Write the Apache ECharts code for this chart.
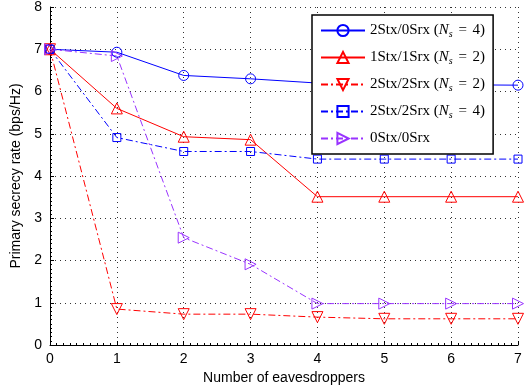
<!DOCTYPE html>
<html>
<head>
<meta charset="utf-8">
<script src="https://cdn.jsdelivr.net/npm/echarts@6/dist/echarts.min.js"></script>
<style>html,body{margin:0;padding:0;background:#fff}#c{width:526px;height:388px}</style>
</head>
<body>
<div id="c"></div>
<script>
var categories = [0, 1, 2, 3, 4, 5, 6, 7];
var s2Stx0Srx4 = [7, 6.93, 6.38, 6.30, 6.20, 6.18, 6.16, 6.15];
var s1Stx1Srx2 = [7, 5.60, 4.93, 4.86, 3.51, 3.51, 3.51, 3.51];
var s2Stx2Srx2 = [7, 0.85, 0.73, 0.73, 0.66, 0.62, 0.62, 0.62];
var s2Stx2Srx4 = [7, 4.91, 4.58, 4.58, 4.40, 4.40, 4.40, 4.40];
var s0Stx0Srx  = [7, 6.84, 2.54, 1.91, 0.98, 0.98, 0.98, 0.98];
var yTicks = [0, 1, 2, 3, 4, 5, 6, 7, 8];
var seriesNames = ['2Stx/0Srx (Ns = 4)', '1Stx/1Srx (Ns = 2)', '2Stx/2Srx (Ns = 2)', '2Stx/2Srx (Ns = 4)', '0Stx/0Srx'];
var legendLabels = {
  '2Stx/0Srx (Ns = 4)': '2Stx/0Srx ({i|N}{sub|s}{eq| = }4)',
  '1Stx/1Srx (Ns = 2)': '1Stx/1Srx ({i|N}{sub|s}{eq| = }2)',
  '2Stx/2Srx (Ns = 2)': '2Stx/2Srx ({i|N}{sub|s}{eq| = }2)',
  '2Stx/2Srx (Ns = 4)': '2Stx/2Srx ({i|N}{sub|s}{eq| = }4)',
  '0Stx/0Srx': '0Stx/0Srx'
};

var BLUE = '#0000ff', RED = '#ff0000', PURPLE = '#9933ff';
var dashDot = [7, 3, 2, 3];

function mk(name, data, color, symbol, size, dash, rot) {
  return {
    name: name, type: 'line',
    data: data.map(function (v, i) { return [categories[i], v]; }),
    symbol: symbol, symbolSize: size, symbolRotate: rot || 0,
    lineStyle: { color: color, width: 1, type: dash || 'solid' },
    itemStyle: { color: 'rgba(255,255,255,0)', borderColor: color, borderWidth: 1 },
    emphasis: { disabled: true },
    animation: false
  };
}

var chart = echarts.init(document.getElementById('c'), null, { renderer: 'canvas' });
chart.setOption({
  animation: false,
  grid: { left: 50, right: 8, top: 7, bottom: 43, containLabel: false, outerBoundsMode: 'none' },
  xAxis: {
    type: 'value', min: 0, max: 7, interval: 1,
    name: 'Number of eavesdroppers', nameLocation: 'middle', nameGap: 22,
    nameTextStyle: { fontFamily: 'Liberation Sans', fontSize: 14, color: '#000' },
    axisLine: { lineStyle: { color: '#000', width: 1 } },
    axisTick: { inside: true, length: 4, lineStyle: { color: '#000' } },
    minorTick: { show: true, splitNumber: 10, length: 2, lineStyle: { color: '#000' } },
    axisLabel: { fontFamily: 'Liberation Sans', fontSize: 14, color: '#000', margin: 7 },
    splitLine: { show: true, lineStyle: { color: '#333', type: [1, 4], width: 1 } }
  },
  yAxis: {
    type: 'value', min: 0, max: 8, interval: 1,
    name: 'Primary secrecy rate (bps/Hz)', nameLocation: 'middle', nameGap: 21,
    nameTextStyle: { fontFamily: 'Liberation Sans', fontSize: 14, color: '#000' },
    axisLine: { show: true, lineStyle: { color: '#000', width: 1 } },
    axisTick: { show: true, inside: true, length: 4, lineStyle: { color: '#000' } },
    minorTick: { show: true, splitNumber: 10, length: 2, lineStyle: { color: '#000' } },
    axisLabel: { fontFamily: 'Liberation Sans', fontSize: 14, color: '#000', margin: 8,
      formatter: function (v) { return yTicks.indexOf(v) >= 0 ? String(v) : ''; } },
    splitLine: { show: true, lineStyle: { color: '#333', type: [1, 4], width: 1 } }
  },
  legend: {
    orient: 'vertical', left: 312, top: 15,
    backgroundColor: '#fff', borderColor: '#000', borderWidth: 1.5,
    padding: [8, 8, 8, 8], itemGap: 11, itemWidth: 44, itemHeight: 14,
    data: seriesNames,
    formatter: function (n) { return legendLabels[n]; },
    textStyle: {
      fontFamily: 'Liberation Serif', fontSize: 15, color: '#000', width: 130,
      rich: {
        i: { fontFamily: 'Liberation Serif', fontStyle: 'italic', fontSize: 15, color: '#000' },
        sub: { fontFamily: 'Liberation Serif', fontStyle: 'italic', fontSize: 10, color: '#000', verticalAlign: 'bottom', padding: [7, 0, 0, 0] },
        eq: { fontFamily: 'Liberation Serif', fontSize: 15, color: '#000', whiteSpace: 'pre', padding: [0, 2, 0, 2] }
      }
    }
  },
  series: [
    mk(seriesNames[0], s2Stx0Srx4, BLUE, 'circle', 10, 'solid'),
    mk(seriesNames[1], s1Stx1Srx2, RED, 'triangle', 11, 'solid'),
    mk(seriesNames[2], s2Stx2Srx2, RED, 'triangle', 11, dashDot, 180),
    mk(seriesNames[3], s2Stx2Srx4, BLUE, 'rect', 8, dashDot),
    mk(seriesNames[4], s0Stx0Srx, PURPLE, 'triangle', 11, dashDot, -90)
  ]
});
</script>
</body>
</html>
